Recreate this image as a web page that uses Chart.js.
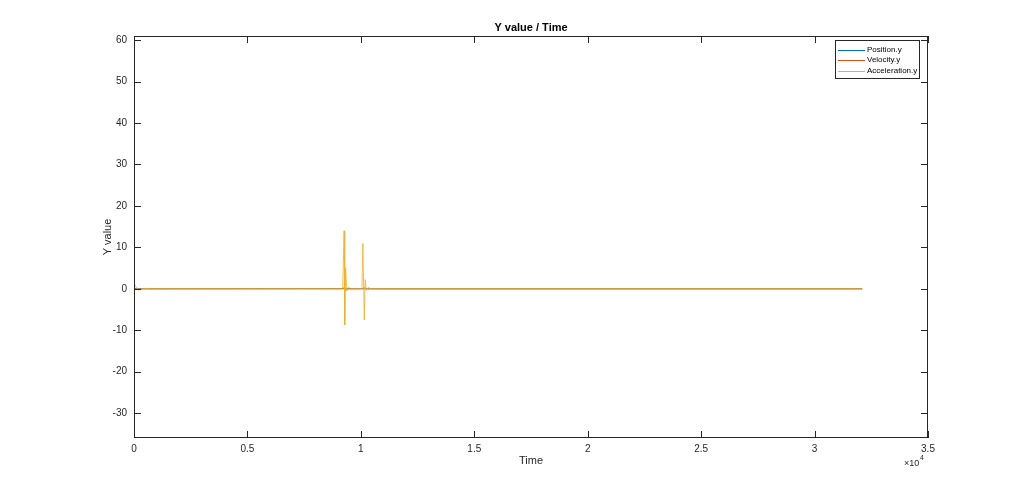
<!DOCTYPE html>
<html>
<head>
<meta charset="utf-8">
<script src="https://cdn.jsdelivr.net/npm/chart.js@4/dist/chart.umd.min.js"></script>
<style>
  html, body { margin: 0; padding: 0; background: #fff; }
  canvas { display: block; }
</style>
</head>
<body>
<canvas id="myChart" width="1024" height="493"></canvas>
<script>
// series (time in samples, y values)
const posTime = [0, 9260, 9300, 10100, 10150, 32100];
const posY = [0, 0.05, 0, 0.04, 0, 0];

const velTime = [0, 150, 400, 9200, 9270, 9310, 9400, 10080, 10150, 10250, 32100];
const velY = [0.2, -0.1, 0, 0, 0.4, -0.3, 0, 0, 0.3, 0, 0];

const accTime = [0, 60, 200, 450, 800, 9200, 9260, 9290, 9330, 9380, 9450, 9550,
  10050, 10090, 10150, 10190, 10240, 10320, 10450, 32100];
const accY = [1.5, 0.6, -0.3, 0.1, 0, 0, 14, -8.7, 5, -0.6, 0.4, 0,
  0, 11, -7.5, 2.2, -0.4, 0.3, 0, 0];

const seriesNames = ['Position.y', 'Velocity.y', 'Acceleration.y'];
const seriesColors = ['#0072BD', '#D95319', '#EDB120'];

const xTicks = [0, 5000, 10000, 15000, 20000, 25000, 30000, 35000];
const yTicks = [-30, -20, -10, 0, 10, 20, 30, 40, 50, 60];

const ctx = document.getElementById('myChart');
const axisColor = '#262626';
const fontFamily = '"Liberation Sans", Arial, Helvetica, sans-serif';

function toPoints(xs, ys) {
  return xs.map((x, i) => ({ x: x, y: ys[i] }));
}

// matlab style box, inner ticks, labels and legend
const matlabAxes = {
  id: 'matlabAxes',
  afterDraw(chart) {
    const c = chart.ctx;
    const a = chart.chartArea;
    const xs = chart.scales.x;
    const ys = chart.scales.y;
    const tl = 7;

    c.save();
    c.strokeStyle = axisColor;
    c.lineWidth = 1;
    c.strokeRect(a.left + 0.5, a.top + 0.5, a.right - a.left - 1, a.bottom - a.top - 1);

    c.beginPath();
    xTicks.forEach(v => {
      const px = Math.round(xs.getPixelForValue(v)) + 0.5;
      c.moveTo(px, a.bottom);
      c.lineTo(px, a.bottom - tl);
      c.moveTo(px, a.top);
      c.lineTo(px, a.top + tl);
    });
    yTicks.forEach(v => {
      const py = Math.round(ys.getPixelForValue(v)) + 0.5;
      c.moveTo(a.left, py);
      c.lineTo(a.left + tl, py);
      c.moveTo(a.right, py);
      c.lineTo(a.right - tl, py);
    });
    c.stroke();

    c.fillStyle = '#000';
    c.font = 'bold 11px ' + fontFamily;
    c.textAlign = 'center';
    c.textBaseline = 'middle';
    c.fillText('Y value / Time', (a.left + a.right) / 2, 28);

    c.fillStyle = axisColor;
    c.font = '11px ' + fontFamily;
    c.fillText('Time', (a.left + a.right) / 2, 461);

    c.save();
    c.translate(108, (a.top + a.bottom) / 2);
    c.rotate(-Math.PI / 2);
    c.fillText('Y value', 0, 0);
    c.restore();

    c.font = '9px ' + fontFamily;
    c.textAlign = 'left';
    c.fillText('\u00d710', 904, 464);
    c.font = '7px ' + fontFamily;
    c.fillText('4', 920, 458);

    // legend
    const lx = 835, ly = 40, lw = 84, lh = 38;
    c.fillStyle = '#fff';
    c.fillRect(lx, ly, lw, lh);
    c.strokeStyle = axisColor;
    c.strokeRect(lx + 0.5, ly + 0.5, lw, lh);
    c.font = '8px ' + fontFamily;
    c.textBaseline = 'middle';
    chart.data.datasets.forEach((ds, i) => {
      const ry = ly + 9.5 + i * 10.5;
      c.strokeStyle = ds.borderColor;
      c.beginPath();
      c.moveTo(lx + 3, Math.round(ry) + 0.5);
      c.lineTo(lx + 30, Math.round(ry) + 0.5);
      c.stroke();
      c.fillStyle = '#000';
      c.fillText(ds.label, lx + 32, ry);
    });
    c.restore();
  }
};

new Chart(ctx, {
  type: 'line',
  data: {
    datasets: [
      { label: seriesNames[0], data: toPoints(posTime, posY), borderColor: seriesColors[0], order: 2 },
      { label: seriesNames[1], data: toPoints(velTime, velY), borderColor: seriesColors[1], order: 1 },
      { label: seriesNames[2], data: toPoints(accTime, accY), borderColor: seriesColors[2], order: 0 }
    ].map(ds => Object.assign(ds, { borderWidth: 0.8, pointRadius: 0, tension: 0, fill: false }))
  },
  options: {
    responsive: false,
    animation: false,
    layout: { padding: { top: 36, right: 96, left: 0, bottom: 0 } },
    plugins: {
      legend: { display: false },
      title: { display: false },
      tooltip: { enabled: false }
    },
    scales: {
      x: {
        type: 'linear',
        min: 0,
        max: 35000,
        grid: { display: false, drawTicks: false },
        border: { display: false },
        afterFit: scale => { scale.height = 55; },
        afterBuildTicks: scale => { scale.ticks = xTicks.map(v => ({ value: v })); },
        ticks: {
          padding: 5,
          maxRotation: 0,
          color: axisColor,
          font: { family: fontFamily, size: 10 },
          callback: v => String(v / 10000)
        }
      },
      y: {
        type: 'linear',
        min: -36,
        max: 61,
        grid: { display: false, drawTicks: false },
        border: { display: false },
        afterFit: scale => { scale.width = 134; },
        afterBuildTicks: scale => { scale.ticks = yTicks.map(v => ({ value: v })); },
        ticks: {
          padding: 7,
          color: axisColor,
          font: { family: fontFamily, size: 10 }
        }
      }
    }
  },
  plugins: [matlabAxes]
});
</script>
</body>
</html>
